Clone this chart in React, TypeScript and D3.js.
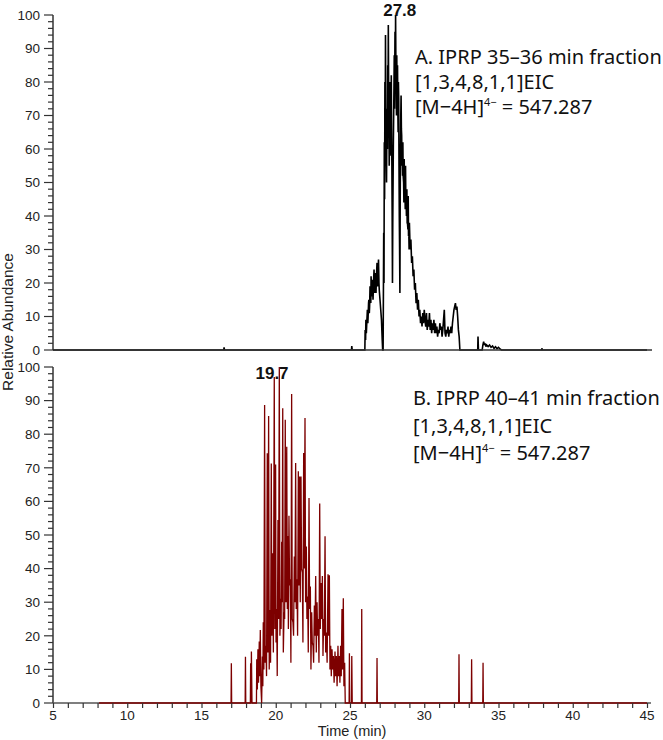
import React, { useEffect, useRef } from "react";
import * as d3 from "d3";

// ---- Data ----
// Panel A: IPRP 35-36 min fraction (black trace) [time (min), relative abundance]
const traceA: [number, number][] = [
  [5, 0], [16.5, 0], [16.52, 0.8], [16.55, 0], [25.1, 0], [25.12, 1.2], [25.15, 0],
  [26.0, 0], [26.02, 6], [26.05, 3], [26.07, 9], [26.1, 5], [26.12, 7], [26.15, 10], [26.17, 12],
  [26.2, 8], [26.22, 10], [26.25, 14], [26.27, 15], [26.3, 11], [26.32, 13], [26.35, 19],
  [26.37, 18], [26.4, 14], [26.42, 22], [26.45, 17], [26.47, 16], [26.5, 21], [26.52, 20],
  [26.55, 15], [26.57, 18], [26.6, 22], [26.62, 24], [26.65, 17], [26.67, 19], [26.7, 23],
  [26.72, 22], [26.75, 17], [26.77, 20], [26.8, 24], [26.82, 26], [26.85, 19], [26.87, 21],
  [26.9, 25], [26.92, 27], [26.95, 20], [26.97, 18],
  [27.02, 15], [27.07, 12], [27.12, 9], [27.17, 3], [27.2, 0], [27.23, 0], [27.27, 35],
  [27.29, 20], [27.31, 62], [27.33, 45], [27.35, 80], [27.37, 58], [27.39, 94], [27.41, 70],
  [27.43, 60], [27.46, 50], [27.48, 66], [27.5, 72], [27.52, 60], [27.54, 85], [27.56, 70],
  [27.58, 97], [27.6, 80], [27.62, 75], [27.64, 55], [27.66, 62], [27.68, 74], [27.7, 80],
  [27.72, 60], [27.74, 70], [27.76, 58], [27.78, 82], [27.8, 66], [27.82, 55], [27.84, 40],
  [27.86, 20], [27.88, 38], [27.9, 50], [27.92, 62], [27.94, 70], [27.96, 78], [27.98, 88],
  [28.0, 72], [28.03, 95], [28.05, 80], [28.07, 100], [28.09, 85], [28.11, 78], [28.13, 70],
  [28.15, 88], [28.17, 74], [28.2, 85], [28.22, 72], [28.24, 65], [28.26, 80], [28.28, 75],
  [28.3, 55], [28.32, 40], [28.34, 30], [28.36, 17], [28.38, 45], [28.4, 60], [28.42, 70],
  [28.44, 76], [28.46, 66], [28.48, 64], [28.5, 55], [28.52, 58], [28.54, 52], [28.56, 62],
  [28.58, 52], [28.61, 50], [28.63, 44], [28.65, 57], [28.67, 46], [28.7, 48], [28.72, 42],
  [28.74, 55], [28.76, 44], [28.78, 45], [28.8, 40], [28.83, 48], [28.85, 38], [28.87, 38],
  [28.9, 36], [28.92, 46], [28.94, 34], [28.96, 35], [28.98, 30], [29.0, 38],
  [29.05, 30], [29.1, 33], [29.15, 26], [29.2, 28], [29.25, 22], [29.3, 24], [29.35, 18],
  [29.4, 20], [29.45, 14], [29.5, 17], [29.55, 12], [29.6, 15], [29.65, 10], [29.7, 12],
  [29.75, 8], [29.8, 10], [29.85, 7], [29.9, 11], [29.95, 8], [30.0, 12], [30.05, 9],
  [30.1, 7], [30.15, 11], [30.2, 6], [30.25, 9], [30.3, 7], [30.35, 11], [30.4, 6],
  [30.45, 9], [30.5, 5], [30.55, 8], [30.6, 6], [30.65, 9], [30.7, 5], [30.75, 8],
  [30.8, 5], [30.85, 7], [30.9, 4], [30.95, 6], [31.0, 5], [31.05, 8], [31.1, 6],
  [31.15, 7], [31.2, 4], [31.25, 6], [31.3, 9], [31.35, 12], [31.4, 5], [31.45, 4],
  [31.5, 6], [31.55, 5], [31.6, 7], [31.65, 4], [31.7, 6], [31.75, 5], [31.8, 7],
  [31.85, 5], [31.9, 8], [31.95, 10], [32.0, 12], [32.05, 13], [32.1, 14], [32.15, 12],
  [32.2, 13], [32.25, 10], [32.3, 6], [32.35, 4], [32.4, 0], [33.6, 0], [33.62, 4],
  [33.65, 0], [33.9, 0], [33.95, 1.5], [34.0, 2.5], [34.05, 1.5], [34.1, 2], [34.15, 1],
  [34.2, 1.5], [34.3, 1], [34.4, 1.5], [34.5, 0.8], [34.6, 1.2], [34.7, 0.5], [34.8, 1.0],
  [34.9, 0.4], [35.0, 0.8], [35.1, 0.3], [35.2, 0], [37.9, 0], [37.92, 0.5], [37.95, 0],
  [45, 0],
];

// Panel B: IPRP 40-41 min fraction (dark red trace)
const traceB: [number, number][] = [
  [8.1, 0], [16.99, 0], [17.01, 11.8], [17.03, 0], [17.94, 0], [17.96, 13.8], [17.98, 0],
  [18.29, 0], [18.31, 11.8], [18.34, 0], [18.36, 15.3], [18.4, 0], [18.7, 0], [18.72, 13],
  [18.76, 4], [18.8, 16], [18.84, 6], [18.89, 18.3], [18.92, 8], [18.96, 21.7], [19.0, 5],
  [19.05, 0], [19.1, 13.8], [19.13, 5], [19.16, 24], [19.2, 10], [19.25, 88.7], [19.29, 12],
  [19.34, 17], [19.38, 8], [19.43, 74.3], [19.47, 15], [19.52, 85.4], [19.56, 10],
  [19.61, 27.7], [19.65, 12], [19.7, 71.3], [19.74, 20], [19.79, 44.6], [19.84, 15],
  [19.9, 97], [19.94, 22], [19.99, 71], [20.02, 18], [20.06, 28], [20.1, 8], [20.15, 54.5],
  [20.19, 25], [20.24, 100], [20.28, 20], [20.33, 31], [20.36, 22], [20.4, 48], [20.43, 30],
  [20.47, 87.7], [20.51, 15], [20.56, 27], [20.6, 25], [20.64, 84.3], [20.69, 30],
  [20.74, 76.3], [20.78, 28], [20.82, 49.7], [20.85, 22], [20.89, 55.7], [20.93, 35],
  [20.98, 36.8], [21.02, 12], [21.07, 92], [21.11, 25], [21.16, 24], [21.2, 20],
  [21.25, 43.6], [21.29, 30], [21.34, 71.4], [21.38, 28], [21.43, 36.8], [21.47, 20],
  [21.52, 69], [21.56, 35], [21.61, 67.4], [21.65, 30], [21.7, 67.4], [21.74, 40],
  [21.79, 38.8], [21.83, 18], [21.88, 74.4], [21.92, 40], [21.97, 84.8], [22.01, 30],
  [22.06, 46.6], [22.1, 25], [22.15, 31.7], [22.19, 15], [22.24, 61], [22.28, 28],
  [22.33, 34.7], [22.37, 10], [22.42, 27], [22.46, 18], [22.51, 17], [22.55, 12],
  [22.6, 29], [22.64, 20], [22.69, 37.8], [22.73, 15], [22.78, 30], [22.82, 20],
  [22.87, 25], [22.91, 12], [22.96, 59.4], [23.0, 22], [23.05, 35.7], [23.09, 25],
  [23.14, 37.8], [23.18, 14], [23.23, 25], [23.27, 20], [23.32, 49.6], [23.36, 15],
  [23.41, 21], [23.46, 12], [23.52, 38.3], [23.56, 20], [23.61, 38], [23.65, 10],
  [23.7, 17], [23.74, 8], [23.79, 16], [23.83, 10], [23.88, 14], [23.93, 6], [23.99, 15.3],
  [24.03, 8], [24.08, 14], [24.13, 5], [24.19, 17], [24.23, 8], [24.28, 14], [24.32, 6],
  [24.37, 17], [24.41, 8], [24.46, 28], [24.5, 10], [24.55, 31.2], [24.59, 5], [24.64, 12],
  [24.68, 0], [24.94, 0], [24.96, 14.8], [24.98, 0], [25.1, 0], [25.12, 14], [25.15, 0],
  [25.77, 0], [25.79, 28], [25.81, 0], [26.8, 0], [26.82, 13.4], [26.84, 0], [32.32, 0],
  [32.34, 14.5], [32.36, 0], [33.17, 0], [33.19, 13], [33.21, 0], [33.94, 0], [33.96, 12],
  [33.98, 0], [45, 0],
];

const xDomain: [number, number] = [5, 45];
const yDomain: [number, number] = [0, 100];
const xTickLabels = [5, 10, 15, 20, 25, 30, 35, 40, 45];
const yTickLabels = [0, 10, 20, 30, 40, 50, 60, 70, 80, 90, 100];

const peakLabelA = { text: "27.8", t: 28.35 };
const peakLabelB = { text: "19.7", t: 19.75 };

const annotA = ["A. IPRP 35\u201336 min fraction", "[1,3,4,8,1,1]EIC"];
const annotB = ["B. IPRP 40\u201341 min fraction", "[1,3,4,8,1,1]EIC"];
const ionLabel = { pre: "[M\u22124H]", sup: "4\u2212", post: " = 547.287" };

const W = 663;
const H = 740;

export default function App() {
  const ref = useRef<SVGSVGElement | null>(null);

  useEffect(() => {
    const svg = d3.select(ref.current);
    svg.selectAll("*").remove();

    const x = d3.scaleLinear().domain(xDomain).range([53, 647]);
    const yA = d3.scaleLinear().domain(yDomain).range([350, 15]);
    const yB = d3.scaleLinear().domain(yDomain).range([703, 367]);

    const axisColor = "#333";
    const tickFont = "'Liberation Sans', Arial, sans-serif";
    const annFont = "'Noto Sans', sans-serif";

    const drawYAxis = (y: d3.ScaleLinear<number, number>) => {
      const g = svg.append("g").attr("transform", `translate(${x(5)},0)`);
      const minor = d3.range(0, 101, 2);
      g.selectAll("line.minor")
        .data(minor)
        .join("line")
        .attr("x1", (d) => (d % 10 === 0 ? -9 : -5))
        .attr("x2", 0)
        .attr("y1", (d) => y(d))
        .attr("y2", (d) => y(d))
        .attr("stroke", axisColor)
        .attr("stroke-width", 1.2);
      g.append("line")
        .attr("x1", 0).attr("x2", 0)
        .attr("y1", y(100)).attr("y2", y(0))
        .attr("stroke", axisColor).attr("stroke-width", 1.5);
      g.selectAll("text")
        .data(yTickLabels)
        .join("text")
        .attr("x", -13)
        .attr("y", (d) => y(d))
        .attr("dy", "0.36em")
        .attr("text-anchor", "end")
        .attr("font-family", tickFont)
        .attr("font-size", 13.5)
        .attr("fill", "#222")
        .text((d) => String(d));
    };

    // Panel A
    drawYAxis(yA);
    const lineA = d3.line<[number, number]>().x((d) => x(d[0])).y((d) => yA(d[1]));
    svg.append("path")
      .attr("d", lineA(traceA) || "")
      .attr("fill", "none")
      .attr("stroke", "#000")
      .attr("stroke-width", 1.6)
      .attr("stroke-linejoin", "miter")
      .attr("stroke-miterlimit", 3);
    svg.append("line")
      .attr("x1", x(5)).attr("x2", x(45) + 5)
      .attr("y1", yA(0)).attr("y2", yA(0))
      .attr("stroke", axisColor).attr("stroke-width", 1.5);

    // Panel B
    drawYAxis(yB);
    svg.append("line")
      .attr("x1", x(5)).attr("x2", x(45) + 4)
      .attr("y1", yB(0)).attr("y2", yB(0))
      .attr("stroke", "#555").attr("stroke-width", 1.5);
    const lineB = d3.line<[number, number]>().x((d) => x(d[0])).y((d) => yB(d[1]));
    svg.append("path")
      .attr("d", lineB(traceB) || "")
      .attr("fill", "none")
      .attr("stroke", "#7d0000")
      .attr("stroke-width", 1.3)
      .attr("stroke-linejoin", "miter")
      .attr("stroke-miterlimit", 2);

    const xAxis = d3.axisBottom(x)
      .tickValues(d3.range(5, 46, 1))
      .tickSize(5)
      .tickFormat(() => "");
    const gx = svg.append("g").attr("transform", `translate(0,${yB(0)})`).call(xAxis);
    gx.select(".domain").remove();
    gx.selectAll(".tick line").attr("stroke", axisColor).attr("stroke-width", 1.2);
    svg.append("g")
      .selectAll("text")
      .data(xTickLabels)
      .join("text")
      .attr("x", (d) => x(d))
      .attr("y", 720)
      .attr("text-anchor", "middle")
      .attr("font-family", tickFont)
      .attr("font-size", 13.5)
      .attr("fill", "#222")
      .text((d) => String(d));

    svg.append("text")
      .attr("x", 352)
      .attr("y", 736)
      .attr("text-anchor", "middle")
      .attr("font-family", tickFont)
      .attr("font-size", 14.5)
      .attr("fill", "#222")
      .text("Time (min)");

    svg.append("text")
      .attr("transform", `translate(13,322) rotate(-90)`)
      .attr("text-anchor", "middle")
      .attr("font-family", tickFont)
      .attr("font-size", 15.5)
      .attr("fill", "#222")
      .text("Relative Abundance");

    // peak labels
    const peak = (p: { text: string; t: number }, yy: number) =>
      svg.append("text")
        .attr("x", x(p.t))
        .attr("y", yy)
        .attr("text-anchor", "middle")
        .attr("font-family", tickFont)
        .attr("font-weight", "bold")
        .attr("font-size", 17)
        .attr("fill", "#111")
        .text(p.text);
    peak(peakLabelA, 15.5);
    peak(peakLabelB, 379);

    const annot = (lines: string[], x0: number, ys: number[]) => {
      lines.forEach((s, i) => {
        svg.append("text")
          .attr("x", x0).attr("y", ys[i])
          .attr("font-family", annFont)
          .attr("font-size", 20)
          .attr("fill", "#111")
          .text(s);
      });
      const t = svg.append("text")
        .attr("x", x0).attr("y", ys[2])
        .attr("font-family", annFont)
        .attr("font-size", 20)
        .attr("fill", "#111");
      t.append("tspan").text(ionLabel.pre);
      t.append("tspan").attr("font-size", 11).attr("dy", -8).text(ionLabel.sup);
      t.append("tspan").attr("dy", 8).text(ionLabel.post);
    };
    annot(annotA, 415, [64, 89, 114]);
    annot(annotB, 413, [405, 433, 460]);
  }, []);

  return (
    <svg
      ref={ref}
      width={W}
      height={H}
      style={{ position: "absolute", left: 0, top: 0, background: "#fff" }}
    />
  );
}
